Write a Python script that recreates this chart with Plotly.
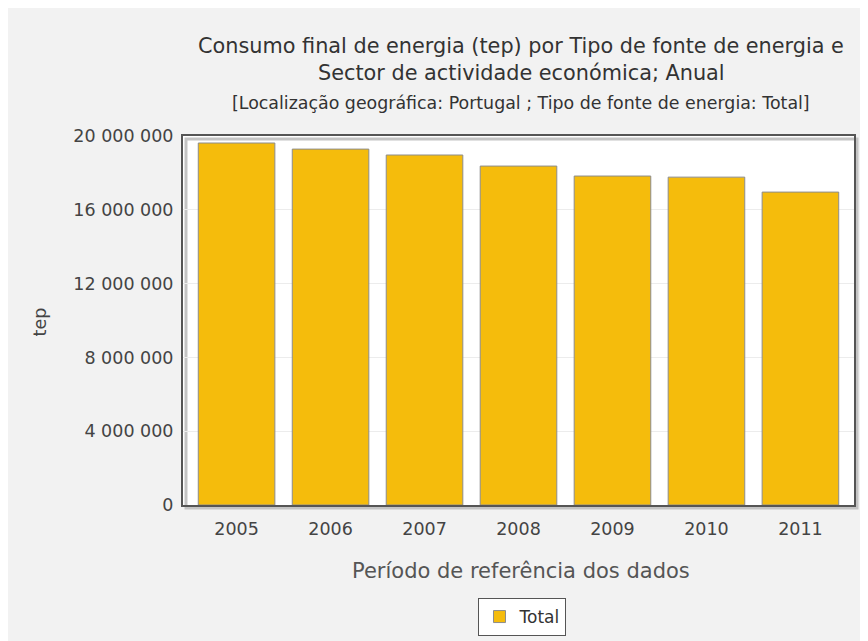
import plotly.graph_objects as go

# dados (tep)
anos = ["2005", "2006", "2007", "2008", "2009", "2010", "2011"]
consumo_total = [19620000, 19290000, 18970000, 18370000, 17830000, 17770000, 16960000]

titulo_l1 = "Consumo final de energia (tep) por Tipo de fonte de energia e"
titulo_l2 = "Sector de actividade económica; Anual"
subtitulo = "[Localização geográfica: Portugal ; Tipo de fonte de energia: Total]"

# a página tem 8px de margem no body -> figura um pouco menor
W, H = 852, 633
L, R, T, B = 175, 4, 128, 136
PW, PH = W - L - R, H - T - B
X0, Y0 = 183, 505  # canto inferior esquerdo da área do gráfico, em px da página


def px_y(py):
    return (Y0 - py) / PH


def px_x(px):
    return (px - X0) / PW


FONTE = "DejaVu Sans, sans-serif"
CX = px_x(522.5)  # centro dos títulos

fig = go.Figure()
fig.add_trace(go.Bar(
    x=anos, y=consumo_total, name="Total",
    marker=dict(color="#F5BC0C", line=dict(color="#8c8c8c", width=1)),
))

fig.update_layout(
    width=W, height=H,
    margin=dict(l=L, r=R, t=T, b=B),
    paper_bgcolor="#f2f2f2", plot_bgcolor="white",
    separators=", ",
    bargap=0.185,
    font=dict(family=FONTE, color="#444"),
    showlegend=True,
    legend=dict(
        x=px_x(523.5), xanchor="center", y=px_y(617), yanchor="middle",
        bgcolor="white", bordercolor="#555", borderwidth=1,
        font=dict(size=17, color="#333"), orientation="h",
    ),
    xaxis=dict(
        range=[-0.57, len(anos) - 0.43],
        showline=True, linecolor="#555", linewidth=2, mirror=True,
        ticks="", tickfont=dict(size=17.5, color="#444"), ticklabelstandoff=7,
    ),
    yaxis=dict(
        range=[0, 20000000], dtick=4000000, tickformat=",d",
        showline=True, linecolor="#555", linewidth=2, mirror=True,
        gridcolor="#ececec", zeroline=False,
        ticks="", tickfont=dict(size=17.5, color="#444"), ticklabelstandoff=4,
    ),
    shapes=[
        # sombra da moldura
        dict(type="rect", xref="paper", yref="paper", x0=px_x(186), x1=px_x(859),
             y0=px_y(508), y1=px_y(139), fillcolor="rgba(0,0,0,0)",
             line=dict(color="#c4c4c4", width=3), layer="below"),
    ],
    annotations=[
        dict(text=titulo_l1, x=CX, y=px_y(46), xref="paper", yref="paper",
             showarrow=False, yanchor="middle", font=dict(size=20.8, color="#333")),
        dict(text=titulo_l2, x=CX, y=px_y(73), xref="paper", yref="paper",
             showarrow=False, yanchor="middle", font=dict(size=20.8, color="#333")),
        dict(text=subtitulo, x=CX, y=px_y(103), xref="paper", yref="paper",
             showarrow=False, yanchor="middle", font=dict(size=17.4, color="#333")),
        dict(text="Período de referência dos dados", x=CX, y=px_y(571), xref="paper", yref="paper",
             showarrow=False, yanchor="middle", font=dict(size=21, color="#555")),
        dict(text="tep", x=px_x(40), y=px_y(322), xref="paper", yref="paper",
             showarrow=False, textangle=-90, xanchor="center", yanchor="middle",
             font=dict(size=17.5, color="#444")),
    ],
)

# sem barras de deslocamento
fig.write_html("out.html", post_script="document.body.style.overflow='hidden';")
